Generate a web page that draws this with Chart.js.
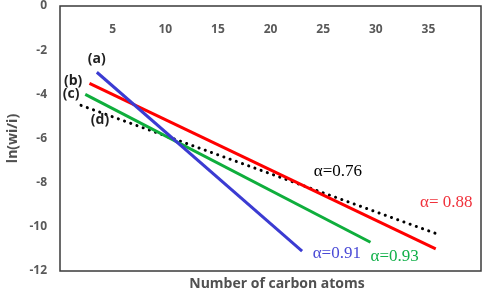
<!DOCTYPE html>
<html lang="en">
<head>
    <meta charset="UTF-8">
    <title>ln(wi/i) vs number of carbon atoms</title>
    <script src="https://cdn.jsdelivr.net/npm/chart.js"></script>
    <style>
        body {
            margin: 0;
            padding: 0;
            background: #ffffff;
        }
        .wrap {
            width: 484px;
            height: 292px;
        }
    </style>
</head>
<body>
    <div class="wrap"><canvas id="myChart" width="484" height="292"></canvas></div>
    <script>
        // data: two end points per fitted line
        const seriesNames = ['(a)', '(b)', '(c)', '(d)'];
        const carbonA = [3.5, 23];
        const lnA = [-3.0, -11.1];
        const carbonB = [2.8, 35.7];
        const lnB = [-3.5, -11.0];
        const carbonC = [2.4, 29.5];
        const lnC = [-4.0, -10.7];
        const carbonD = [2.0, 35.7];
        const lnD = [-4.5, -10.3];
        const alphaLabels = ['α=0.91', 'α= 0.88', 'α=0.93', 'α=0.76'];
        const xTicks = [5, 10, 15, 20, 25, 30, 35];
        const yTicks = [0, -2, -4, -6, -8, -10, -12];

        const colors = ['#3b3bd2', '#ff0000', '#0fae3c', '#000000'];
        const alphaColors = ['#4a4ad6', '#f0323c', '#12b04a', '#000000'];

        function pts(xs, ys) {
            return xs.map((x, i) => ({ x: x, y: ys[i] }));
        }

        // text labels placed in data units
        const seriesLabelPos = [[3.5, -2.4], [1.25, -3.4], [1.05, -4.0], [3.8, -5.15]];
        const alphaLabelPos = [[26.3, -11.2], [36.7, -8.9], [31.8, -11.35], [26.4, -7.5]];

        const overlay = {
            id: 'overlay',
            afterDraw(chart) {
                const ctx = chart.ctx;
                const a = chart.chartArea;
                const sx = chart.scales.x;
                const sy = chart.scales.y;
                ctx.save();
                // frame
                ctx.strokeStyle = '#3a3a3a';
                ctx.lineWidth = 1.5;
                ctx.strokeRect(a.left, a.top, a.right - a.left, a.bottom - a.top);

                // series letters
                ctx.font = 'bold 14px "Open Sans"';
                ctx.fillStyle = '#1f1f1f';
                ctx.textAlign = 'center';
                ctx.textBaseline = 'middle';
                seriesNames.forEach((n, i) => {
                    ctx.fillText(n, sx.getPixelForValue(seriesLabelPos[i][0]), sy.getPixelForValue(seriesLabelPos[i][1]));
                });

                // alpha values
                ctx.font = '17px "Liberation Serif"';
                alphaLabels.forEach((t, i) => {
                    ctx.fillStyle = alphaColors[i];
                    ctx.fillText(t, sx.getPixelForValue(alphaLabelPos[i][0]), sy.getPixelForValue(alphaLabelPos[i][1]));
                });

                // x axis title
                ctx.font = 'bold 14px "Open Sans"';
                ctx.fillStyle = '#505050';
                ctx.fillText('Number of carbon atoms', 277, 284);
                ctx.restore();
            }
        };

        const ctx = document.getElementById('myChart').getContext('2d');
        new Chart(ctx, {
            type: 'scatter',
            data: {
                datasets: [
                    { label: seriesNames[0], data: pts(carbonA, lnA), borderColor: colors[0], borderWidth: 3 },
                    { label: seriesNames[1], data: pts(carbonB, lnB), borderColor: colors[1], borderWidth: 3 },
                    { label: seriesNames[2], data: pts(carbonC, lnC), borderColor: colors[2], borderWidth: 3 },
                    { label: seriesNames[3], data: pts(carbonD, lnD), borderColor: colors[3], borderWidth: 3, borderDash: [0.1, 6.5], borderCapStyle: 'round' }
                ].map(d => Object.assign(d, { showLine: true, pointRadius: 0, fill: false }))
            },
            options: {
                responsive: false,
                animation: false,
                layout: { padding: { top: 6, right: 3, bottom: 21, left: 0 } },
                plugins: {
                    legend: { display: false },
                    tooltip: { enabled: false }
                },
                scales: {
                    x: {
                        type: 'linear',
                        min: 0,
                        max: 40,
                        position: { y: 0 },
                        grid: { display: false, drawTicks: false },
                        border: { display: false },
                        afterBuildTicks(scale) {
                            scale.ticks = xTicks.map(v => ({ value: v }));
                        },
                        afterFit(scale) {
                            scale.height = 0;
                            scale.paddingLeft = 0;
                            scale.paddingRight = 0;
                        },
                        ticks: {
                            padding: 16,
                            color: '#595959',
                            font: { family: 'Open Sans', size: 12, weight: 'bold' }
                        }
                    },
                    y: {
                        type: 'linear',
                        min: -12,
                        max: 0,
                        grid: { display: false, drawTicks: false },
                        border: { display: false },
                        afterBuildTicks(scale) {
                            scale.ticks = yTicks.map(v => ({ value: v }));
                        },
                        afterFit(scale) {
                            scale.width = 60;
                            scale.paddingTop = 0;
                            scale.paddingBottom = 0;
                        },
                        ticks: {
                            padding: 13,
                            color: '#595959',
                            font: { family: 'Open Sans', size: 12, weight: 'bold' }
                        },
                        title: {
                            display: true,
                            text: 'ln(wi/i)',
                            color: '#505050',
                            padding: { top: 5, bottom: 0 },
                            font: { family: 'Open Sans', size: 14, weight: 'bold' }
                        }
                    }
                }
            },
            plugins: [overlay]
        });
    </script>
</body>
</html>
